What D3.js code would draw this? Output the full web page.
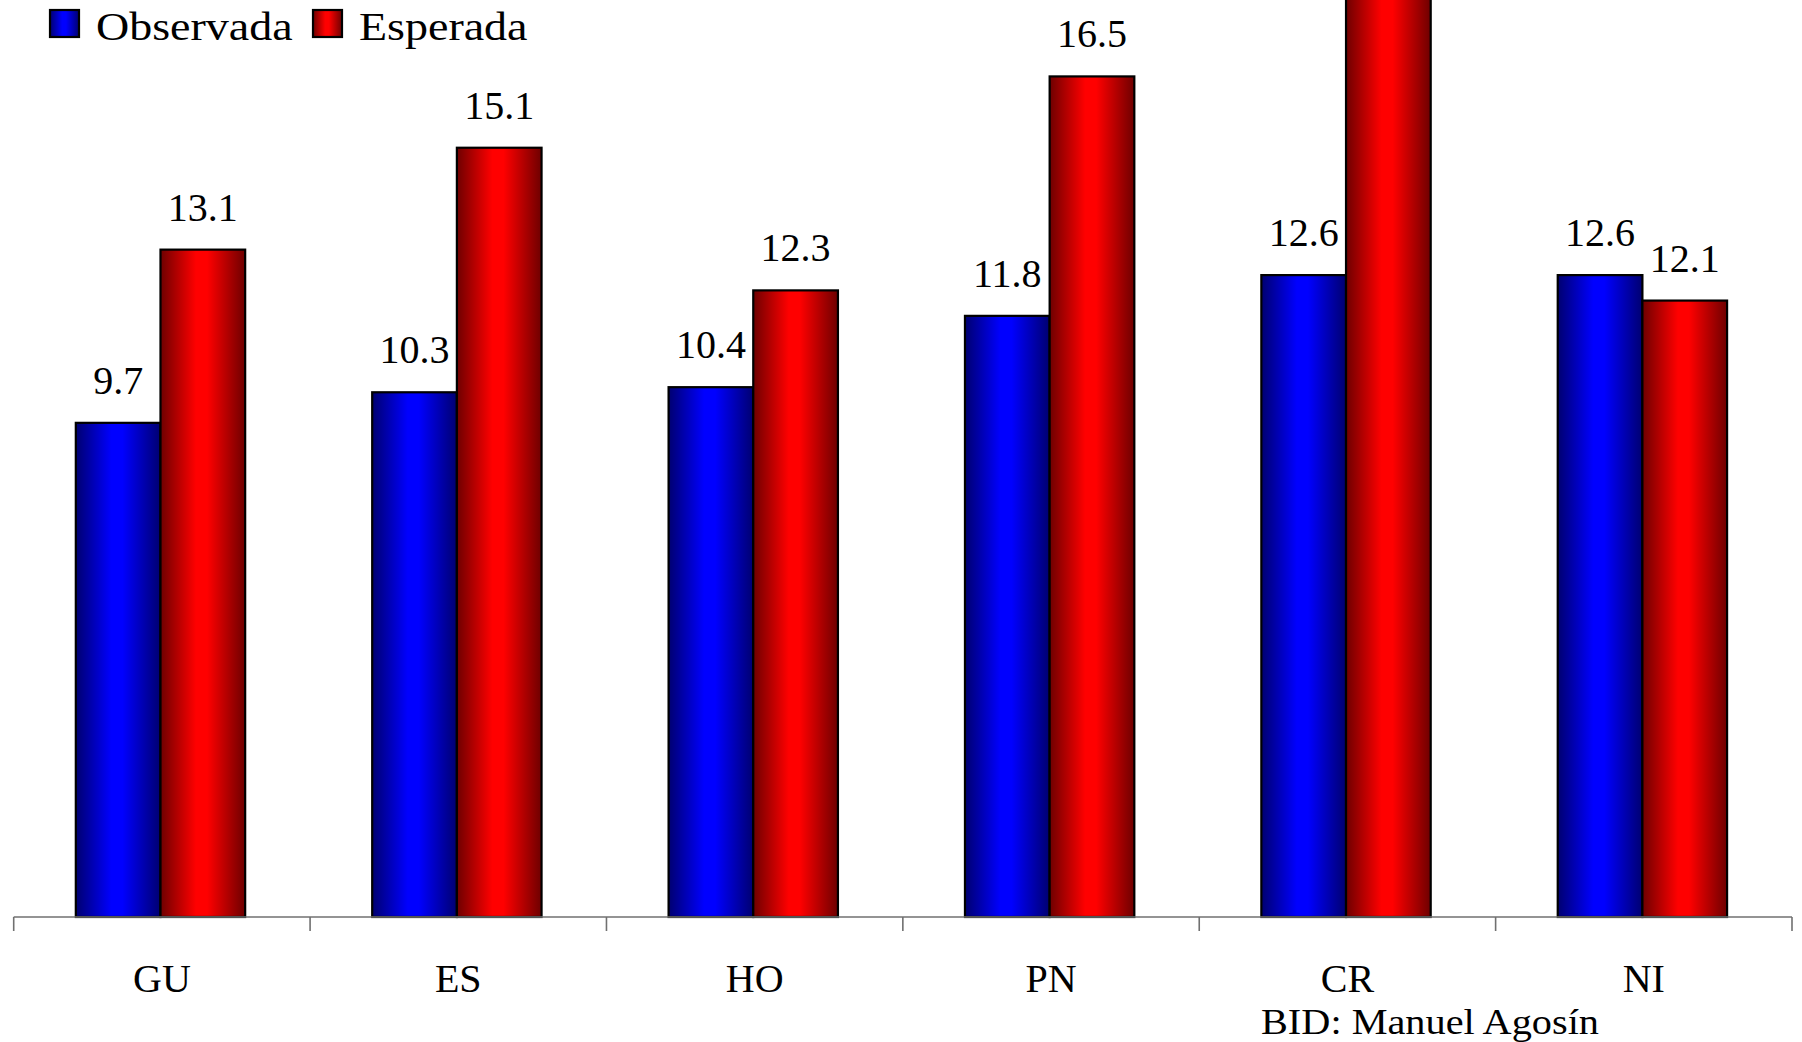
<!DOCTYPE html>
<html>
<head>
<meta charset="utf-8">
<script src="https://cdn.jsdelivr.net/npm/d3@7/dist/d3.min.js"></script>
<style>
  html, body { margin: 0; padding: 0; background: #fff; }
  svg { display: block; }
  text { font-family: "Liberation Serif", "Times New Roman", serif; fill: #000; }
</style>
</head>
<body>
<svg id="chart" width="1802" height="1042"></svg>
<script>
// ---- data ----
const categories = ["GU", "ES", "HO", "PN", "CR", "NI"];
const seriesNames = ["Observada", "Esperada"];
const observada = [9.7, 10.3, 10.4, 11.8, 12.6, 12.6];
const esperada  = [13.1, 15.1, 12.3, 16.5, 18.9, 12.1];
const sourceNote = "BID: Manuel Agosín";

const W = 1802, H = 1042;
const svg = d3.select("#chart");
const defs = svg.append("defs");

function addGrad(id, dark, bright) {
  const g = defs.append("linearGradient").attr("id", id)
    .attr("x1", "0%").attr("x2", "100%").attr("y1", "0%").attr("y2", "0%");
  g.append("stop").attr("offset", "0%").attr("stop-color", dark);
  g.append("stop").attr("offset", "42%").attr("stop-color", bright);
  g.append("stop").attr("offset", "55%").attr("stop-color", bright);
  g.append("stop").attr("offset", "100%").attr("stop-color", dark);
}
addGrad("gradBlue", "#000070", "#0000ff");
addGrad("gradRed", "#6e0000", "#ff0000");
const fills = { "Observada": "url(#gradBlue)", "Esperada": "url(#gradRed)" };

const rows = categories.map((c, i) => ({ cat: c, values: [
  { key: "Observada", value: observada[i] },
  { key: "Esperada", value: esperada[i] }
]}));

const x0 = d3.scaleBand().domain(categories).range([13.7, 1792]).paddingInner(0).paddingOuter(0);
const x1 = d3.scaleBand().domain(seriesNames).range([0, x0.bandwidth()]).paddingInner(0).paddingOuter(0.75);
const y = d3.scaleLinear().domain([0, 18]).range([917, 0]);

// bars
const groups = svg.append("g").selectAll("g").data(rows).join("g")
  .attr("transform", d => `translate(${x0(d.cat) - 1.4},0)`);

groups.selectAll("rect").data(d => d.values).join("rect")
  .attr("x", d => x1(d.key))
  .attr("y", d => y(d.value))
  .attr("width", x1.bandwidth())
  .attr("height", d => y(0) - y(d.value))
  .attr("fill", d => fills[d.key])
  .attr("stroke", "#000")
  .attr("stroke-width", 2.2);

// value labels (the one above the clipped CR bar falls outside the picture)
groups.selectAll("text.val").data(d => d.values.filter(v => y(v.value) - 29 > 30)).join("text")
  .attr("class", "val")
  .attr("x", d => x1(d.key) + x1.bandwidth() / 2)
  .attr("y", d => y(d.value) - 29)
  .attr("text-anchor", "middle")
  .attr("font-size", 40)
  .text(d => d.value.toFixed(1));

// x axis
const axis = d3.axisBottom(x0).tickSize(14).tickFormat("");
const axG = svg.append("g").attr("transform", `translate(0,${y(0)})`).call(axis);
axG.select(".domain").attr("stroke", "#707070").attr("stroke-width", 1.6)
  .attr("d", `M${x0.range()[0]},0H${x0.range()[1]}`);
axG.selectAll(".tick").remove();
const bounds = categories.map(c => x0(c)).concat([x0.range()[1]]);
axG.selectAll("line.b").data(bounds).join("line")
  .attr("class", "b")
  .attr("x1", d => d).attr("x2", d => d)
  .attr("y1", 0).attr("y2", 14)
  .attr("stroke", "#707070").attr("stroke-width", 1.6);

// category labels
svg.append("g").selectAll("text").data(categories).join("text")
  .attr("x", d => x0(d) + x0.bandwidth() / 2)
  .attr("y", 992)
  .attr("text-anchor", "middle")
  .attr("font-size", 40)
  .text(d => d);

// source note
svg.append("text")
  .attr("x", 1261).attr("y", 1034)
  .attr("font-size", 36)
  .attr("textLength", 338)
  .attr("lengthAdjust", "spacingAndGlyphs")
  .text(sourceNote);

// legend
const legendX = [50, 313];
const lg = svg.append("g").selectAll("g").data(seriesNames).join("g")
  .attr("transform", (d, i) => `translate(${legendX[i]},10)`);
lg.append("rect")
  .attr("width", 29).attr("height", 27)
  .attr("fill", d => fills[d])
  .attr("stroke", "#000").attr("stroke-width", 2.2);
lg.append("text")
  .attr("transform", "translate(46,30) scale(1.15,1)")
  .attr("font-size", 40)
  .text(d => d);
</script>
</body>
</html>
